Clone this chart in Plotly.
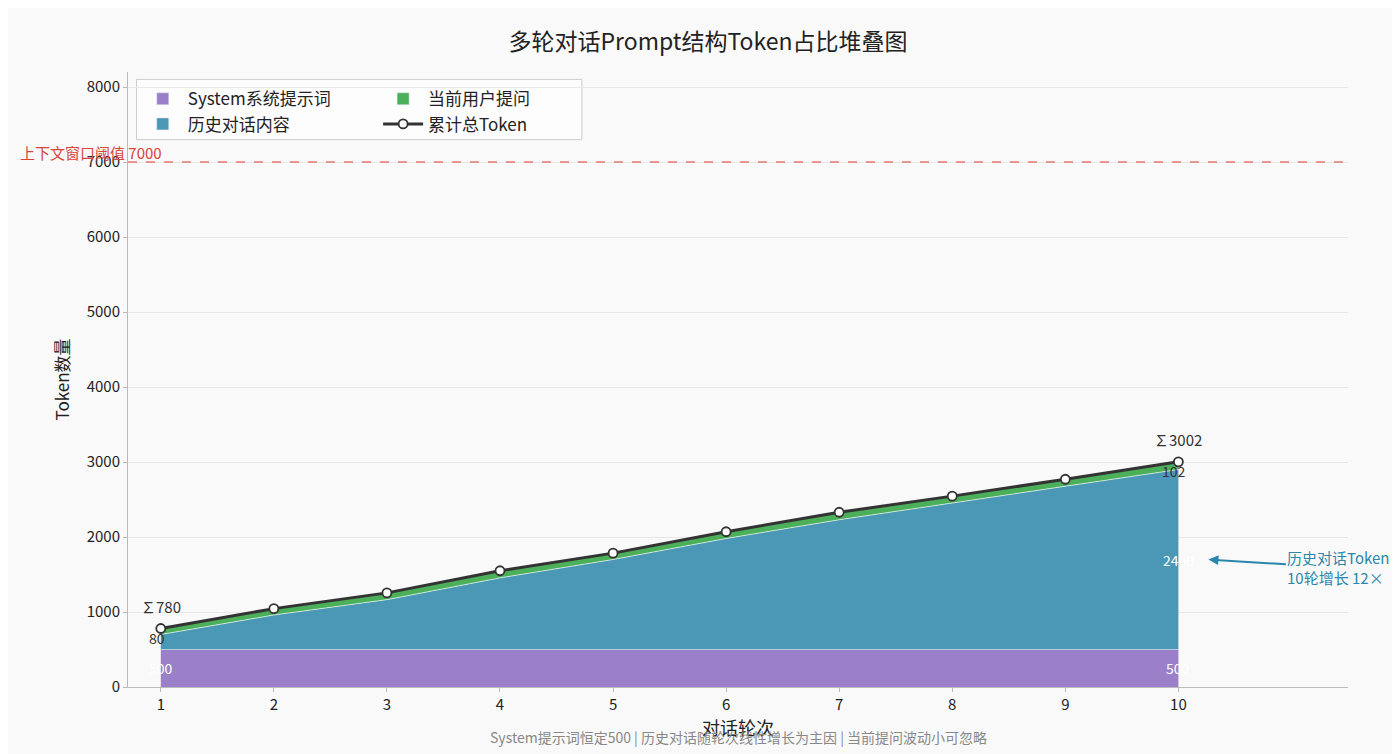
import plotly.graph_objects as go

rounds = [1, 2, 3, 4, 5, 6, 7, 8, 9, 10]
system_tokens = [500, 500, 500, 500, 500, 500, 500, 500, 500, 500]
history_tokens = [200, 460, 665, 955, 1200, 1480, 1730, 1950, 2180, 2400]
user_tokens = [80, 85, 90, 95, 85, 90, 100, 95, 90, 102]
total_tokens = [s + h + u for s, h, u in zip(system_tokens, history_tokens, user_tokens)]
threshold = 7000

FONT = "Noto Sans CJK SC"
C_SYS = "#9b7fc8"
C_HIST = "#4a98b6"
C_USER = "#4caf5a"

fig = go.Figure()
# stacked areas (legend entries are drawn by dummy bars below so they show as boxes)
fig.add_trace(go.Scatter(x=rounds, y=system_tokens, stackgroup="a", mode="lines",
                         fillcolor=C_SYS, showlegend=False,
                         line=dict(width=0.6, color="rgba(255,255,255,0.7)")))
fig.add_trace(go.Scatter(x=rounds, y=history_tokens, stackgroup="a", mode="lines",
                         fillcolor=C_HIST, showlegend=False,
                         line=dict(width=0.8, color="rgba(255,255,255,0.8)")))
fig.add_trace(go.Scatter(x=rounds, y=user_tokens, stackgroup="a", mode="lines",
                         fillcolor=C_USER, showlegend=False,
                         line=dict(width=0.5, color=C_USER)))
fig.add_trace(go.Scatter(x=rounds, y=total_tokens, mode="lines+markers", name="累计总Token",
                         legend="legend2", legendrank=4,
                         line=dict(color="#333333", width=3),
                         marker=dict(size=9, color="white", line=dict(color="#333333", width=1.8))))

for name, col, lg, rk in [("System系统提示词", C_SYS, "legend", 1), ("历史对话内容", C_HIST, "legend", 2),
                          ("当前用户提问", C_USER, "legend2", 3)]:
    fig.add_trace(go.Bar(x=[None], y=[None], name=name, marker_color=col, legend=lg, legendrank=rk))

ann = []
ann.append(dict(x=0, xref="paper", xanchor="right", xshift=36, y=threshold, yshift=10,
                text=f"上下文窗口阈值 {threshold}", showarrow=False,
                font=dict(color="#d9443c", size=15, family=FONT)))
for i in (0, 9):
    ann.append(dict(x=rounds[i], y=total_tokens[i], yshift=22, text=f"∑{total_tokens[i]}",
                    showarrow=False, font=dict(size=15, color="#333", family=FONT)))
    ann.append(dict(x=rounds[i], y=total_tokens[i], yshift=-9, xshift=-4, text=str(user_tokens[i]),
                    showarrow=False, font=dict(size=14, color="#333", family=FONT)))
    ann.append(dict(x=rounds[i], y=system_tokens[i] / 2, text=str(system_tokens[i]),
                    showarrow=False, font=dict(size=14, color="white", family=FONT)))
    if i == 9:
        ann.append(dict(x=rounds[i], y=system_tokens[i] + history_tokens[i] / 2, text=str(history_tokens[i]),
                        showarrow=False, font=dict(size=14, color="white", family=FONT)))
growth = history_tokens[-1] / history_tokens[0]
ann.append(dict(x=10, y=1700, xshift=30, text=f"历史对话Token<br>10轮增长 {growth:.0f}×", align="left",
                showarrow=True, ax=130, ay=8, arrowhead=2, arrowwidth=2, arrowcolor="#2a86ad",
                font=dict(size=15, color="#2a86ad", family=FONT)))
ann.append(dict(x=0.5, xref="paper", y=-0.082, yref="paper", yanchor="middle",
                text="System提示词恒定500 | 历史对话随轮次线性增长为主因 | 当前提问波动小可忽略",
                showarrow=False, font=dict(size=14, color="#888888", family=FONT)))

leg = dict(orientation="v", yanchor="top", y=0.985, bgcolor="rgba(0,0,0,0)", traceorder="normal",
           font=dict(size=17, family=FONT, color="#222"), tracegroupgap=2, itemwidth=40)
fig.update_layout(
    width=1400, height=754,
    paper_bgcolor="#f9f9f9", plot_bgcolor="#f9f9f9",
    font=dict(family=FONT, color="#222"),
    title=dict(text="多轮对话Prompt结构Token占比堆叠图", x=0.5, y=0.965, xanchor="center",
               font=dict(size=23, family=FONT)),
    margin=dict(l=120, r=60, t=64, b=75),
    legend=dict(leg, x=0.008, xanchor="left"),
    legend2=dict(leg, x=0.205, xanchor="left"),
    annotations=ann,
    barmode="overlay",
    shapes=[
        dict(type="rect", xref="paper", yref="paper", x0=0.007, x1=0.372, y0=0.89, y1=0.988,
             line=dict(color="#cccccc", width=1), fillcolor="rgba(255,255,255,0.6)", layer="below"),
        dict(type="line", xref="paper", yref="y", x0=0, x1=1, y0=threshold, y1=threshold,
             line=dict(color="#e8615a", dash="dash", width=1.5), opacity=0.85),
    ],
)
fig.update_xaxes(range=[0.71, 11.5], tickvals=rounds, showgrid=False, showline=True, linecolor="#bbbbbb",
                 ticks="outside", ticklen=4, tickcolor="#bbbbbb", tickfont=dict(size=15),
                 title=dict(text="对话轮次", font=dict(size=18), standoff=2), zeroline=False)
fig.update_yaxes(range=[0, 8200], dtick=1000, showgrid=True, gridcolor="#e8e8e8", showline=True,
                 linecolor="#bbbbbb", ticks="outside", ticklen=4, tickcolor="#bbbbbb",
                 tickfont=dict(size=15), title=dict(text="Token数量", font=dict(size=17), standoff=12),
                 zeroline=False)

fig.write_html("out.html")
